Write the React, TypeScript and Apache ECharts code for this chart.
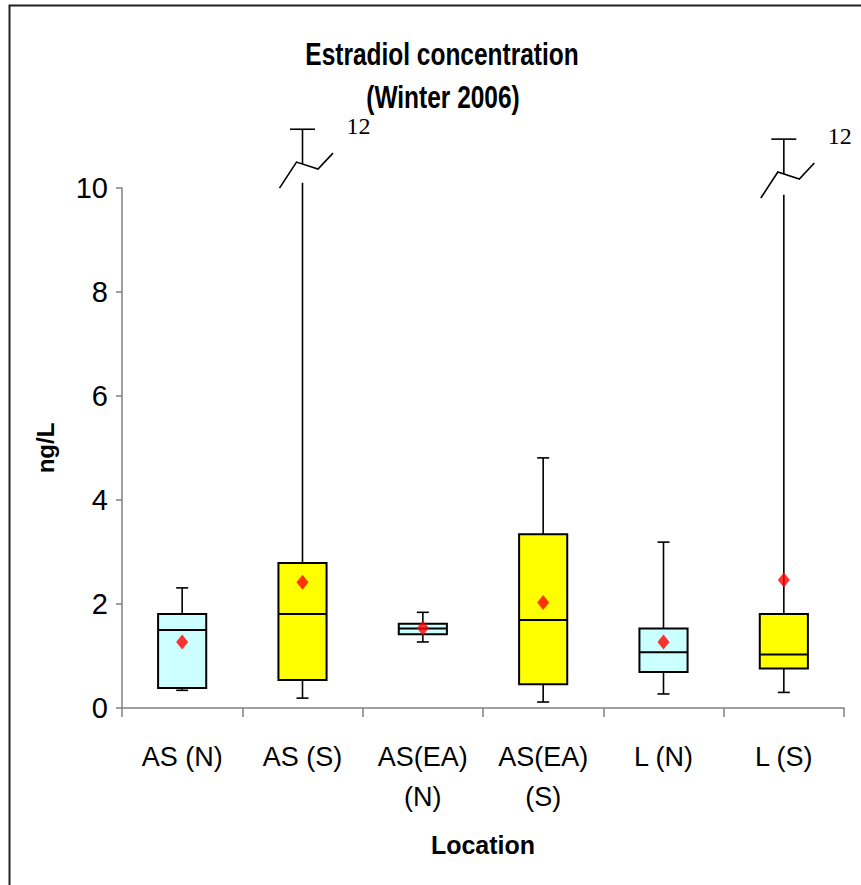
import React, { useEffect, useRef } from "react";
import * as echarts from "echarts";

const categories = ["AS (N)", "AS (S)", "AS(EA)\n(N)", "AS(EA)\n(S)", "L (N)", "L (S)"];
const whiskerLow = [0.34, 0.19, 1.27, 0.115, 0.27, 0.3];
const quartile1 = [0.385, 0.54, 1.42, 0.455, 0.69, 0.76];
const medians = [1.5, 1.81, 1.53, 1.69, 1.07, 1.03];
const quartile3 = [1.81, 2.79, 1.62, 3.34, 1.53, 1.81];
const whiskerHigh = [2.31, 12, 1.84, 4.81, 3.19, 12];
const means = [1.27, 2.42, 1.54, 2.03, 1.27, 2.46];
const boxColors = ["#CCFFFF", "#FFFF00", "#CCFFFF", "#FFFF00", "#CCFFFF", "#FFFF00"];
// broken whiskers (axis units): where the cut top is drawn, where the zigzag crosses, where the lower part resumes
const breakTop: (number | null)[] = [null, 11.13, null, null, null, 10.94];
const breakCross: (number | null)[] = [null, 10.46, null, null, null, 10.27];
const breakResume: (number | null)[] = [null, 10.1, null, null, null, 9.87];
const yMin = 0;
const yMax = 10;
const yInterval = 2;

const titleLines = ["Estradiol concentration", "(Winter 2006)"];
const yName = "ng/L";
const xName = "Location";

const SANS = "'Liberation Sans', Arial, sans-serif";

export default function App() {
  const ref = useRef<HTMLDivElement>(null);
  useEffect(() => {
    if (!ref.current) return;
    const chart = echarts.init(ref.current, null, { renderer: "svg" });
    const boxData = categories.map((_, i) => [
      i,
      whiskerLow[i],
      quartile1[i],
      medians[i],
      quartile3[i],
      whiskerHigh[i],
    ]);
    const meanData = categories.map((_, i) => [i, means[i]]);
    const option: any = {
      animation: false,
      backgroundColor: "#fff",
      grid: { left: 122, right: 17, top: 188, bottom: 177, containLabel: false },
      graphic: [
        {
          type: "rect",
          shape: { x: 9.5, y: 5.5, width: 880, height: 900 },
          style: { fill: "none", stroke: "#222", lineWidth: 2 },
          silent: true,
        },
        {
          type: "text",
          x: 442,
          y: 54,
          scaleX: 0.79,
          style: {
            text: titleLines[0],
            font: "bold 31px " + SANS,
            fill: "#000",
            textAlign: "center",
            textVerticalAlign: "middle",
          },
        },
        {
          type: "text",
          x: 443,
          y: 97,
          scaleX: 0.79,
          style: {
            text: titleLines[1],
            font: "bold 31px " + SANS,
            fill: "#000",
            textAlign: "center",
            textVerticalAlign: "middle",
          },
        },
      ],
      xAxis: {
        type: "category",
        data: categories,
        boundaryGap: true,
        name: xName,
        nameLocation: "middle",
        nameGap: 124,
        nameTextStyle: { fontFamily: SANS, fontWeight: "bold", fontSize: 25, color: "#000" },
        axisLine: { show: true, lineStyle: { color: "#808080", width: 1.5 } },
        axisTick: { show: true, length: 9, lineStyle: { color: "#808080", width: 1.5 } },
        axisLabel: {
          fontFamily: SANS,
          fontSize: 27,
          color: "#000",
          margin: 29,
          lineHeight: 40,
          interval: 0,
        },
        splitLine: { show: false },
      },
      yAxis: {
        type: "value",
        min: yMin,
        max: yMax,
        interval: yInterval,
        name: yName,
        nameLocation: "middle",
        nameGap: 65,
        nameRotate: 90,
        nameTextStyle: { fontFamily: SANS, fontWeight: "bold", fontSize: 24, color: "#000" },
        axisLine: { show: true, lineStyle: { color: "#808080", width: 1.5 } },
        axisTick: { show: true, inside: false, length: 6, lineStyle: { color: "#808080", width: 1.5 } },
        axisLabel: {
          fontFamily: SANS,
          fontSize: 29,
          color: "#000",
          margin: 14,
        },
        splitLine: { show: false },
      },
      series: [
        {
          type: "custom",
          clip: false,
          data: boxData,
          encode: { x: 0, y: [1, 2, 3, 4, 5] },
          z: 2,
          renderItem: (params: any, api: any) => {
            const i = params.dataIndex;
            const cat = api.value(0);
            const x = api.coord([cat, 0])[0];
            const bw = api.size([1, 0])[0] * 0.4;
            const yLow = api.coord([cat, api.value(1)])[1];
            const yQ1 = api.coord([cat, api.value(2)])[1];
            const yMed = api.coord([cat, api.value(3)])[1];
            const yQ3 = api.coord([cat, api.value(4)])[1];
            const high = api.value(5);
            const wl = { stroke: "#000", lineWidth: 1.6 };
            const children: any[] = [];
            children.push({ type: "line", shape: { x1: x, y1: yLow, x2: x, y2: yQ1 }, style: wl });
            children.push({ type: "line", shape: { x1: x - 6, y1: yLow, x2: x + 6, y2: yLow }, style: wl });
            const bt = breakTop[i];
            if (bt == null) {
              const yHigh = api.coord([cat, high])[1];
              children.push({ type: "line", shape: { x1: x, y1: yQ3, x2: x, y2: yHigh }, style: wl });
              children.push({ type: "line", shape: { x1: x - 6, y1: yHigh, x2: x + 6, y2: yHigh }, style: wl });
            } else {
              const yTop = api.coord([cat, bt])[1];
              const yC = api.coord([cat, breakCross[i] as number])[1];
              const yR = api.coord([cat, breakResume[i] as number])[1];
              children.push({ type: "line", shape: { x1: x, y1: yQ3, x2: x, y2: yR }, style: wl });
              children.push({ type: "line", shape: { x1: x, y1: yC, x2: x, y2: yTop }, style: wl });
              children.push({ type: "line", shape: { x1: x - 12.5, y1: yTop, x2: x + 12.5, y2: yTop }, style: wl });
              children.push({
                type: "polyline",
                shape: {
                  points: [
                    [x - 23, yC + 24],
                    [x - 6, yC - 2],
                    [x + 15.5, yC + 5],
                    [x + 30.5, yC - 11],
                  ],
                },
                style: { stroke: "#000", lineWidth: 1.6, fill: "none" },
              });
              children.push({
                type: "text",
                style: {
                  text: String(high),
                  x: x + 44,
                  y: yTop - 3,
                  font: "24px 'Liberation Serif', 'Times New Roman', serif",
                  fill: "#000",
                  textAlign: "left",
                  textVerticalAlign: "middle",
                },
              });
            }
            children.push({
              type: "rect",
              shape: { x: x - bw / 2, y: yQ3, width: bw, height: yQ1 - yQ3 },
              style: { fill: boxColors[i], stroke: "#000", lineWidth: 2 },
            });
            children.push({
              type: "line",
              shape: { x1: x - bw / 2, y1: yMed, x2: x + bw / 2, y2: yMed },
              style: { stroke: "#000", lineWidth: 2 },
            });
            return { type: "group", children };
          },
        },
        {
          type: "scatter",
          data: meanData,
          symbol: "diamond",
          symbolSize: [12, 15],
          itemStyle: { color: "#FF0000" },
          z: 3,
        },
      ],
    };
    chart.setOption(option);
    return () => chart.dispose();
  }, []);
  return (
    <div
      ref={ref}
      style={{ position: "fixed", left: 0, top: 0, width: 861, height: 885, background: "#fff" }}
    />
  );
}
